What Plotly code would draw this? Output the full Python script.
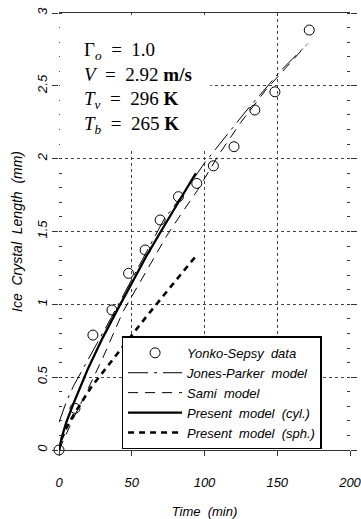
import plotly.graph_objects as go

# ---- data ----
time_data = [0, 11, 23.3, 36.4, 47.8, 59.2, 69.5, 82.1, 94.7, 106.1, 120.3, 134.6, 148.4, 172]
len_data = [0, 0.286, 0.789, 0.961, 1.213, 1.373, 1.579, 1.739, 1.83, 1.951, 2.082, 2.334, 2.459, 2.883]

jp_t = [0, 5, 10, 18, 26, 36, 48, 60, 72, 84, 100, 128, 153, 171]
jp_len = [0.19, 0.33, 0.44, 0.59, 0.73, 0.91, 1.13, 1.36, 1.58, 1.74, 1.97, 2.32, 2.61, 2.79]

sami_t = [0, 10, 20, 30, 44, 64, 74, 86, 95, 110, 125, 142, 170]
sami_len = [0, 0.22, 0.42, 0.63, 0.95, 1.29, 1.47, 1.65, 1.78, 2.03, 2.25, 2.47, 2.78]

cyl_t = [0, 2, 5, 10, 20, 30, 40, 50, 60, 70, 80, 94]
cyl_len = [0, 0.09, 0.19, 0.32, 0.56, 0.77, 0.96, 1.15, 1.33, 1.50, 1.67, 1.90]

sph_t = [0, 2, 5, 10, 22, 40, 60, 80, 94]
sph_len = [0, 0.08, 0.15, 0.24, 0.43, 0.66, 0.915, 1.16, 1.33]

x_ticks = [0, 50, 100, 150, 200]
y_ticks = [0, 0.5, 1, 1.5, 2, 2.5, 3]
y_tick_text = ["0", "0.5", "1", "1.5", "2", "2.5", "3"]

SANS = "Liberation Sans, Arial, sans-serif"
SERIF = "Liberation Serif, DejaVu Serif, serif"
NB = "\u00a0"

fig = go.Figure()

fig.add_trace(go.Scatter(
    x=time_data, y=len_data, mode="markers", name=f"Yonko-Sepsy{NB} data",
    marker=dict(symbol="circle-open", size=10, color="black", line=dict(width=1)),
    cliponaxis=False))
fig.add_trace(go.Scatter(
    x=jp_t, y=jp_len, mode="lines", name=f"Jones-Parker{NB} model",
    line=dict(color="black", width=1, dash="20px,6px,3px,6px")))
fig.add_trace(go.Scatter(
    x=sami_t, y=sami_len, mode="lines", name=f"Sami{NB} model",
    line=dict(color="black", width=1, dash="10px,7px")))
fig.add_trace(go.Scatter(
    x=cyl_t, y=cyl_len, mode="lines", name=f"Present{NB} model{NB} (cyl.)",
    line=dict(color="black", width=2.3)))
fig.add_trace(go.Scatter(
    x=sph_t, y=sph_len, mode="lines", name=f"Present{NB} model{NB} (sph.)",
    line=dict(color="black", width=2.6, dash="6px,5px")))

# white panel behind the parameter text (hides the grid there)
fig.add_shape(type="rect", xref="x", yref="y", x0=0.6, x1=104, y0=2.07, y1=2.985,
              fillcolor="white", line=dict(width=0), layer="above")

fig.add_annotation(
    xref="paper", yref="paper", x=0.079, y=0.945, xanchor="left", yanchor="top",
    align="left", showarrow=False,
    font=dict(family=SERIF, size=19, color="black"),
    text=("Γ<sub><i>o</i></sub>\u00a0 = \u00a01.0<br>"
          "<i>V</i>\u00a0 = \u00a02.92 <b>m/s</b><br>"
          "<i>T</i><sub><i>v</i></sub>\u00a0 = \u00a0296 <b>K</b><br>"
          "<i>T</i><sub><i>b</i></sub>\u00a0 = \u00a0265 <b>K</b>"))

fig.update_layout(
    width=361, height=519,
    margin=dict(l=59, r=11, t=13, b=69, autoexpand=False),
    paper_bgcolor="white", plot_bgcolor="white",
    font=dict(family=SANS, color="black"),
    showlegend=True,
    legend=dict(
        x=0.215, y=0.26, xanchor="left", yanchor="top",
        bgcolor="white", bordercolor="black", borderwidth=1.5,
        font=dict(family=SANS, size=13, style="italic", color="black"),
        itemwidth=54, tracegroupgap=0),
    xaxis=dict(
        range=[0, 200], tickvals=x_ticks, automargin=False,
        showgrid=True, gridcolor="#444", griddash="dot", gridwidth=1,
        showline=True, linecolor="#333", linewidth=1, mirror=True,
        ticks="outside", ticklen=5, tickcolor="#333",
        ticklabelstandoff=15, ticklabeloverflow="allow", zeroline=False,
        tickfont=dict(family=SANS, size=13, style="italic"),
        title=dict(text="Time\u00a0\u00a0(min)", standoff=20,
                   font=dict(family=SANS, size=13, style="italic"))),
    yaxis=dict(
        range=[0, 3], tickvals=y_ticks, ticktext=y_tick_text, tickangle=-90,
        automargin=False,
        showgrid=True, gridcolor="#444", griddash="dot", gridwidth=1,
        showline=False, mirror="ticks", zeroline=False,
        ticks="outside", ticklen=6, tickcolor="#333",
        minor=dict(dtick=0.1, ticks="inside", ticklen=3, tickcolor="#333", showgrid=False),
        ticklabelstandoff=0,
        tickfont=dict(family=SANS, size=13, style="italic"),
        title=dict(text="Ice\u00a0 Crystal\u00a0 Length\u00a0 (mm)", standoff=8,
                   font=dict(family=SANS, size=14, style="italic"))),
)

fig.write_html("out.html")
